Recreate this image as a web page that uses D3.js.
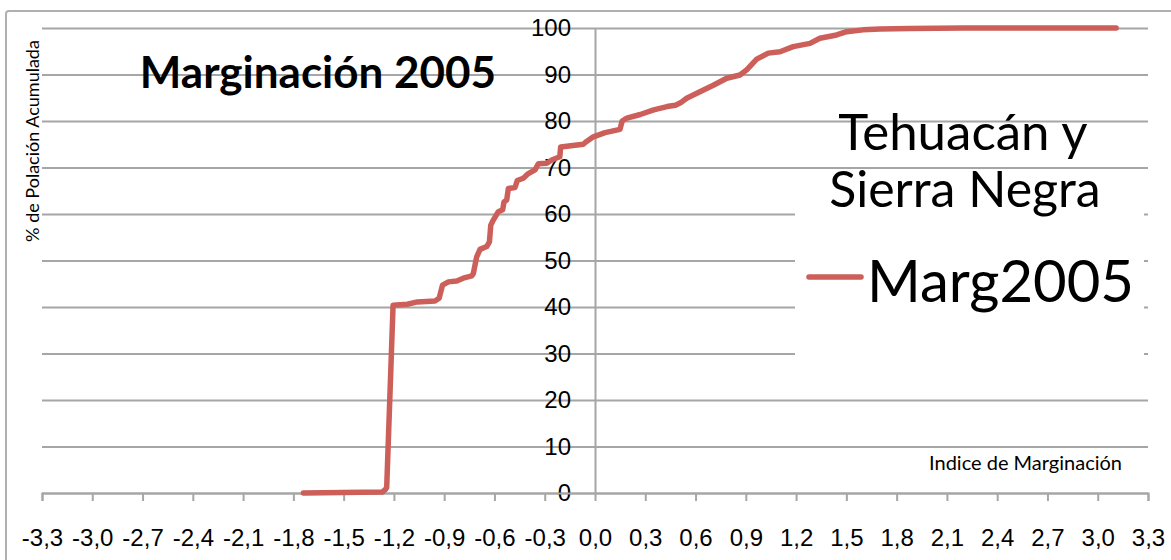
<!DOCTYPE html>
<html lang="es">
<head>
<meta charset="UTF-8">
<script src="https://cdn.jsdelivr.net/npm/d3@7"></script>
<title>Marginación 2005</title>
<style>
	body { margin: 0; background: #fff; }
	svg { display: block; font-family: Lato, "Open Sans", sans-serif; }
	.grid line { stroke: #a6a6a6; stroke-width: 2; }
	.grid path { display: none; }
	.axis path, .axis line { stroke: #a6a6a6; stroke-width: 2; }
	.axis text { font-size: 24px; fill: #000; }
</style>
</head>
<body>
<svg id="chart" width="1171" height="560"></svg>
<script>
	// Indice de marginacion vs % de poblacion acumulada
	const indice = [-1.74, -1.27, -1.25, -1.243, -1.205, -1.12, -1.06, -0.955, -0.93, -0.91,
		-0.875, -0.825, -0.786, -0.736, -0.726, -0.706, -0.686, -0.646, -0.63, -0.622,
		-0.607, -0.577, -0.551, -0.543, -0.527, -0.517, -0.477, -0.464, -0.428, -0.398,
		-0.358, -0.338, -0.288, -0.258, -0.21, -0.205, -0.07, -0.05, -0.01, 0.06,
		0.149, 0.162, 0.19, 0.27, 0.35, 0.43, 0.48, 0.51, 0.547, 0.626,
		0.706, 0.786, 0.865, 0.905, 0.965, 1.034, 1.104, 1.183, 1.283, 1.342,
		1.442, 1.502, 1.6, 1.7, 1.88, 2.2, 3.11];
	const poblacion = [0, 0.2, 0.8, 1.2, 40.4, 40.6, 41.1, 41.3, 41.9, 44.7,
		45.4, 45.6, 46.2, 46.7, 47.2, 50.8, 52.4, 53.0, 54.0, 57.6,
		58.7, 60.5, 60.9, 62.6, 63.0, 65.5, 65.7, 67.2, 67.7, 68.7,
		69.5, 70.8, 70.9, 71.6, 72.3, 74.4, 75.0, 75.6, 76.6, 77.5,
		78.2, 80.0, 80.6, 81.4, 82.4, 83.1, 83.4, 83.9, 84.9, 86.3,
		87.7, 89.2, 89.9, 91.0, 93.3, 94.6, 94.9, 96.0, 96.7, 97.8,
		98.5, 99.2, 99.6, 99.8, 99.9, 100, 100];
	const xTicks = [-3.3, -3.0, -2.7, -2.4, -2.1, -1.8, -1.5, -1.2, -0.9, -0.6, -0.3,
		0.0, 0.3, 0.6, 0.9, 1.2, 1.5, 1.8, 2.1, 2.4, 2.7, 3.0, 3.3];
	const yTicks = [0, 10, 20, 30, 40, 50, 60, 70, 80, 90, 100];
	const seriesName = 'Marg2005';

	const svg = d3.select('#chart');
	const plotLeft = 42, plotRight = 1148, plotTop = 28, plotBottom = 493;

	const x = d3.scaleLinear().domain([-3.3, 3.3]).range([plotLeft, plotRight]);
	const y = d3.scaleLinear().domain([0, 100]).range([plotBottom, plotTop]);

	// outer chart border (cropped)
	svg.append('path')
		.attr('d', 'M6,560 V14 Q6,11 9,11 H1171')
		.attr('fill', 'none').attr('stroke', '#b0b0b0').attr('stroke-width', 2);

	// horizontal gridlines
	svg.append('g').attr('class', 'grid')
		.attr('transform', `translate(${plotLeft},0)`)
		.call(d3.axisLeft(y).tickValues(yTicks).tickSize(-(plotRight - plotLeft)).tickFormat(''));

	// y axis through x = 0
	svg.append('g').attr('class', 'axis')
		.attr('transform', `translate(${x(0)},0)`)
		.call(d3.axisLeft(y).tickValues(yTicks).tickSize(0).tickPadding(24));

	// x axis
	const fmt = d => d3.format('.1f')(d).replace('.', ',').replace('−', '-');
	svg.append('g').attr('class', 'axis')
		.attr('transform', `translate(0,${plotBottom})`)
		.call(d3.axisBottom(x).tickValues(xTicks).tickSize(8).tickPadding(28).tickFormat(fmt));

	// series
	const pts = indice.map((v, i) => [v, poblacion[i]]);
	svg.append('path')
		.datum(pts)
		.attr('d', d3.line().x(d => x(d[0])).y(d => y(d[1])))
		.attr('fill', 'none')
		.attr('stroke', '#cd5f5a')
		.attr('stroke-width', 5.5)
		.attr('stroke-linejoin', 'round')
		.attr('stroke-linecap', 'round');

	// legend box
	svg.append('rect')
		.attr('x', 795).attr('y', 198).attr('width', 349).attr('height', 174)
		.attr('fill', '#fff');
	svg.append('line')
		.attr('x1', 809).attr('x2', 861).attr('y1', 277).attr('y2', 277)
		.attr('stroke', '#cd5f5a').attr('stroke-width', 5.5).attr('stroke-linecap', 'round');
	svg.append('text')
		.attr('x', 867).attr('y', 302)
		.attr('font-size', 58)
		.text(seriesName);

	// texts
	svg.append('text')
		.attr('x', 318).attr('y', 88)
		.attr('text-anchor', 'middle')
		.attr('font-size', 44).attr('font-weight', 'bold')
		.text('Marginación 2005');
	svg.append('text')
		.attr('x', 963).attr('y', 150)
		.attr('text-anchor', 'middle')
		.attr('font-size', 51)
		.text('Tehuacán y');
	svg.append('text')
		.attr('x', 965).attr('y', 207)
		.attr('text-anchor', 'middle')
		.attr('font-size', 50)
		.text('Sierra Negra');
	svg.append('text')
		.attr('x', 1122).attr('y', 470)
		.attr('text-anchor', 'end')
		.attr('font-size', 20)
		.text('Indice de Marginación');
	svg.append('text')
		.attr('transform', 'translate(39,141) rotate(-90)')
		.attr('text-anchor', 'middle')
		.attr('font-size', 18)
		.text('% de Polación Acumulada');
</script>
</body>
</html>
